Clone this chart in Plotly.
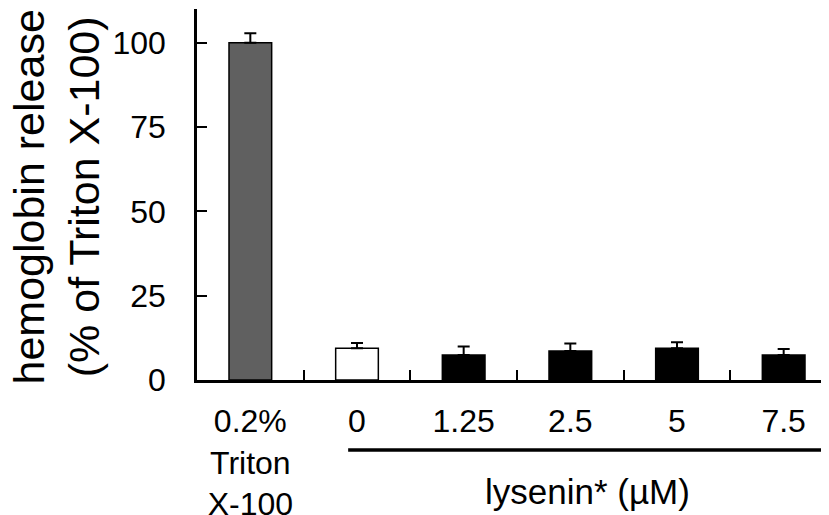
import plotly.graph_objects as go

categories = ["0.2%<br>Triton<br>X-100", "0", "1.25", "2.5", "5", "7.5"]
values = [100, 9.4, 7.4, 8.6, 9.4, 7.4]
errors = [2.8, 1.6, 2.5, 2.2, 1.8, 1.8]
bar_colors = ["#606060", "#ffffff", "#000000", "#000000", "#000000", "#000000"]
y_ticks = [0, 25, 50, 75, 100]
y_title = "hemoglobin release<br>(% of Triton X-100)"
group_label = "lysenin* (µM)"

FONT = "Arial, Liberation Sans, sans-serif"

fig = go.Figure()
fig.add_trace(go.Bar(
    x=list(range(len(categories))),
    y=values,
    width=0.4,
    marker=dict(color=bar_colors, line=dict(color="black", width=1.5)),
    error_y=dict(type="data", symmetric=False, array=errors,
                 arrayminus=[0] * len(errors), color="black",
                 thickness=2, width=6),
    showlegend=False,
))

fig.update_layout(
    width=829, height=515,
    margin=dict(l=189, r=0, t=1, b=143),
    plot_bgcolor="white", paper_bgcolor="white",
    font=dict(family=FONT, color="black", size=32),
)
fig.update_xaxes(
    type="linear",
    range=[-0.5, 5.5],
    tickmode="array",
    tickvals=[0.5, 1.5, 2.5, 3.5, 4.5],
    ticktext=["", "", "", "", ""],
    ticks="inside", ticklen=10, tickwidth=2, tickcolor="black",
    showline=True, linecolor="black", linewidth=2.5,
    showgrid=False, zeroline=False,
)
# category labels on an overlaid axis sharing the same scale
fig.update_layout(xaxis2=dict(
    overlaying="x", side="bottom", anchor="y",
    type="linear", range=[-0.5, 5.5],
    tickmode="array", tickvals=list(range(len(categories))), ticktext=categories,
    ticks="", showline=False, showgrid=False, zeroline=False,
    tickfont=dict(size=32), ticklabelstandoff=19,
))
fig.add_trace(go.Scatter(x=[0], y=[0], xaxis="x2", mode="markers",
                         marker=dict(opacity=0), showlegend=False, hoverinfo="skip"))
fig.update_yaxes(
    range=[0, 110],
    tickvals=y_ticks,
    ticks="inside", ticklen=10, tickwidth=2, tickcolor="black",
    showline=True, linecolor="black", linewidth=2.5,
    showgrid=False, zeroline=False,
    tickfont=dict(size=32), ticklabelstandoff=22,
)

fig.add_annotation(text=y_title, textangle=-90, xref="paper", yref="paper",
                   x=0, y=0.5, xanchor="center", yanchor="middle",
                   xshift=-141, yshift=-3, showarrow=False,
                   font=dict(size=43, family=FONT), align="center")

fig.add_shape(type="line", xref="x", yref="paper", x0=0.917, x1=5.5,
              y0=-0.189, y1=-0.189, line=dict(color="black", width=3.5))
fig.add_annotation(text=group_label, xref="paper", yref="paper",
                   x=0.61, y=-0.30, xanchor="center", yanchor="middle",
                   showarrow=False, font=dict(size=35, family=FONT))

fig.write_html("out.html")
